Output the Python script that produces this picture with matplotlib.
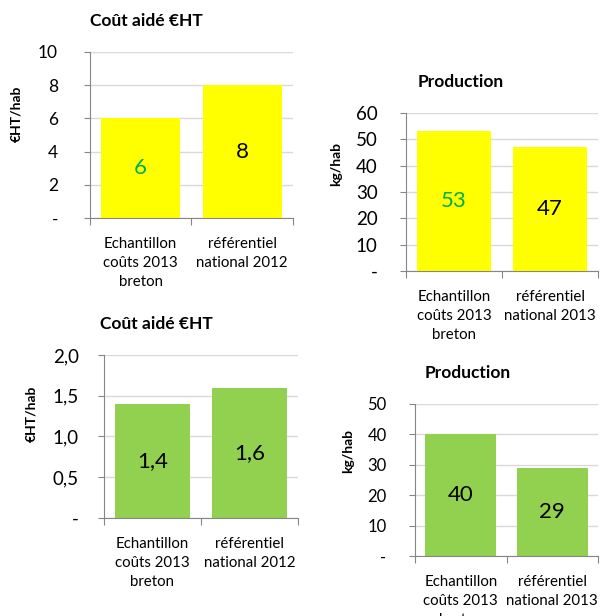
import matplotlib.pyplot as plt
import numpy as np

plt.rcParams['font.family'] = ['Lato', 'DejaVu Sans']

cats_cout = ["Echantillon\ncoûts 2013\nbreton", "référentiel\nnational 2012"]
cats_prod = ["Echantillon\ncoûts 2013\nbreton", "référentiel\nnational 2013"]

cout_top = [6, 8]
prod_top = [53, 47]
cout_bottom = [1.4, 1.6]
prod_bottom = [40, 29]

YELLOW = "#FFFF00"
GREEN = "#92D050"
GRID = "#D9D9D9"
AXIS = "#868686"


def draw_panel(ax, cats, vals, color, title, title_x, ylabel, ylabel_xy,
               ymax, step, fmt, label_colors, tick_size=13, tick_pad=17):
    x = np.arange(len(cats))
    ax.bar(x, vals, width=0.78, color=color, zorder=2)
    ax.set_xlim(-0.5, len(cats) - 0.5)
    ax.set_ylim(0, ymax)

    yt = np.arange(0, ymax + step / 2, step)
    ax.set_yticks(yt)
    ax.set_yticklabels(["-"] + [fmt(v) for v in yt[1:]], fontsize=tick_size)
    ax.yaxis.grid(True, color=GRID, lw=1, zorder=0)

    # category boundary ticks, labels centred under each bar
    ax.set_xticks(np.arange(-0.5, len(cats), 1.0))
    ax.set_xticklabels([])
    ax.set_xticks(x, minor=True)
    ax.set_xticklabels(cats, minor=True, fontsize=10.8, linespacing=1.45)
    ax.tick_params(axis="x", which="major", length=5, color=AXIS, direction="out")
    ax.tick_params(axis="x", which="minor", length=0, pad=14)
    ax.tick_params(axis="y", length=4, color=AXIS, pad=tick_pad)

    for s in ("top", "right"):
        ax.spines[s].set_visible(False)
    for s in ("left", "bottom"):
        ax.spines[s].set_color(AXIS)

    ax.set_title(title, fontsize=12.5, fontweight="bold", pad=19, x=title_x)
    ax.set_ylabel(ylabel, fontsize=10, fontweight="bold")
    ax.yaxis.set_label_coords(*ylabel_xy)

    for xi, v, c in zip(x, vals, label_colors):
        ax.text(xi, v / 2, fmt(v), ha="center", va="center", fontsize=16, color=c)


fig = plt.figure(figsize=(6, 6.16), dpi=100)

ax1 = fig.add_axes([0.150, 0.6461, 0.3383, 0.2695])
ax2 = fig.add_axes([0.6767, 0.5601, 0.3200, 0.2565])
ax3 = fig.add_axes([0.1733, 0.1591, 0.3233, 0.2646])
ax4 = fig.add_axes([0.6917, 0.0974, 0.3050, 0.2468])

draw_panel(ax1, cats_cout, cout_top, YELLOW, "Coût aidé €HT", 0.276,
           "€HT/hab", (-0.335, 0.63), 10, 2,
           lambda v: f"{v:g}", ["#00B050", "black"], tick_size=12.5, tick_pad=19)
draw_panel(ax2, cats_prod, prod_top, YELLOW, "Production", 0.286,
           "kg/hab", (-0.333, 0.68), 60, 10,
           lambda v: f"{v:g}", ["#00B050", "black"], tick_size=13.5, tick_pad=16.5)
draw_panel(ax3, cats_cout, cout_bottom, GREEN, "Coût aidé €HT", 0.268,
           "€HT/hab", (-0.345, 0.64), 2.0, 0.5,
           lambda v: f"{v:.1f}".replace(".", ","), ["black", "black"],
           tick_size=13.5, tick_pad=14)
draw_panel(ax4, cats_prod, prod_bottom, GREEN, "Production", 0.29,
           "kg/hab", (-0.333, 0.69), 50, 10,
           lambda v: f"{v:g}", ["black", "black"], tick_size=12, tick_pad=16.5)

fig.savefig("out.png", dpi=100)
